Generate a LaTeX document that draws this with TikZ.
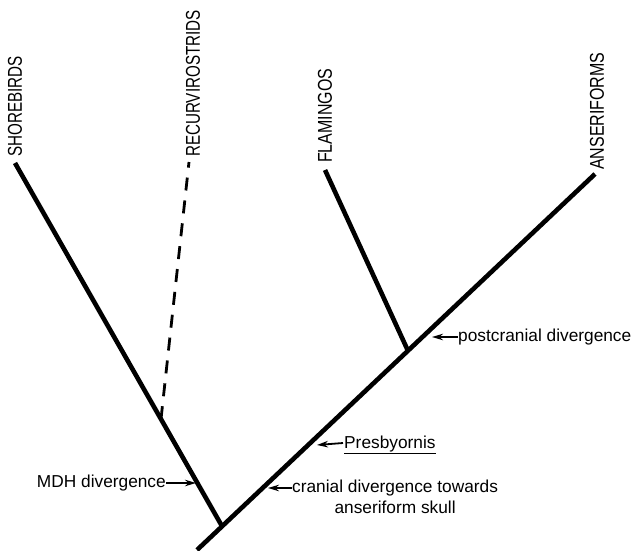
\documentclass[tikz,border=0pt]{standalone}
\usepackage{fontspec}
\setmainfont{Liberation Sans}
\usetikzlibrary{arrows.meta,calc}
\begin{document}
\begin{tikzpicture}[x=1pt,y=-1pt,
  branch/.style={line width=4.6pt},
  dashbranch/.style={line width=2.8pt,dash pattern=on 13pt off 10pt},
  taxon/.style={rotate=90,anchor=west,inner sep=0pt},
  note/.style={inner sep=0pt,font=\fontsize{17.3}{18}\selectfont},
  pointer/.style={line width=1.8pt,-{Stealth[length=11pt,width=6.5pt]}}]
\useasboundingbox (0,0) rectangle (637,551);
% main trunk
\coordinate (B) at (197,550);
\coordinate (A) at (595,174);
\coordinate (J) at ($(B)!0.063!(A)$);
\coordinate (F) at ($(B)!0.530!(A)$);
\coordinate (S) at (15,163);
\coordinate (Fl) at (325,170);
\coordinate (Rtop) at (189,162);
\coordinate (R0) at ($(S)!0.705!(J)$);
\draw[branch] (B) -- (A);
\draw[branch] (S) -- (J);
\draw[branch] (Fl) -- (F);
\draw[dashbranch] (R0) -- (Rtop);
% taxon labels
\node[taxon] (ts) at (15,157) {\scalebox{0.76}[1]{\fontsize{20}{20}\selectfont SHOREBIRDS}};
\node[taxon] (tr) at (193,157) {\scalebox{0.76}[1]{\fontsize{20}{20}\selectfont RECURVIROSTRIDS}};
\node[taxon] (tf) at (325,163) {\scalebox{0.8}[1]{\fontsize{20}{20}\selectfont FLAMINGOS}};
\node[taxon] (ta) at (597,170) {\scalebox{0.8}[1]{\fontsize{20}{20}\selectfont ANSERIFORMS}};
% annotations
\node[note,anchor=west] (pc) at (458,337) {postcranial divergence};
\coordinate (pct) at (432,337);
\draw[pointer] (pc.west) -- (pct);
\node[note,anchor=west] (pr) at (344,445) {\underline{Presbyornis}};
\coordinate (prt) at (317,445);
\draw[pointer] ($(pr.west)+(-1,-2)$) -- (prt);
\node[note,anchor=east] (md) at (166,483) {MDH divergence};
\coordinate (mdt) at (196,483);
\draw[pointer] (md.east) -- (mdt);
\node[note,anchor=west] (cr) at (292,488) {cranial divergence towards};
\node[note,anchor=north] (cr2) at ($(cr.south)+(0,4)$) {anseriform skull};
\coordinate (crt) at (268,488);
\draw[pointer] (cr.west) -- (crt);
\end{tikzpicture}
\end{document}
